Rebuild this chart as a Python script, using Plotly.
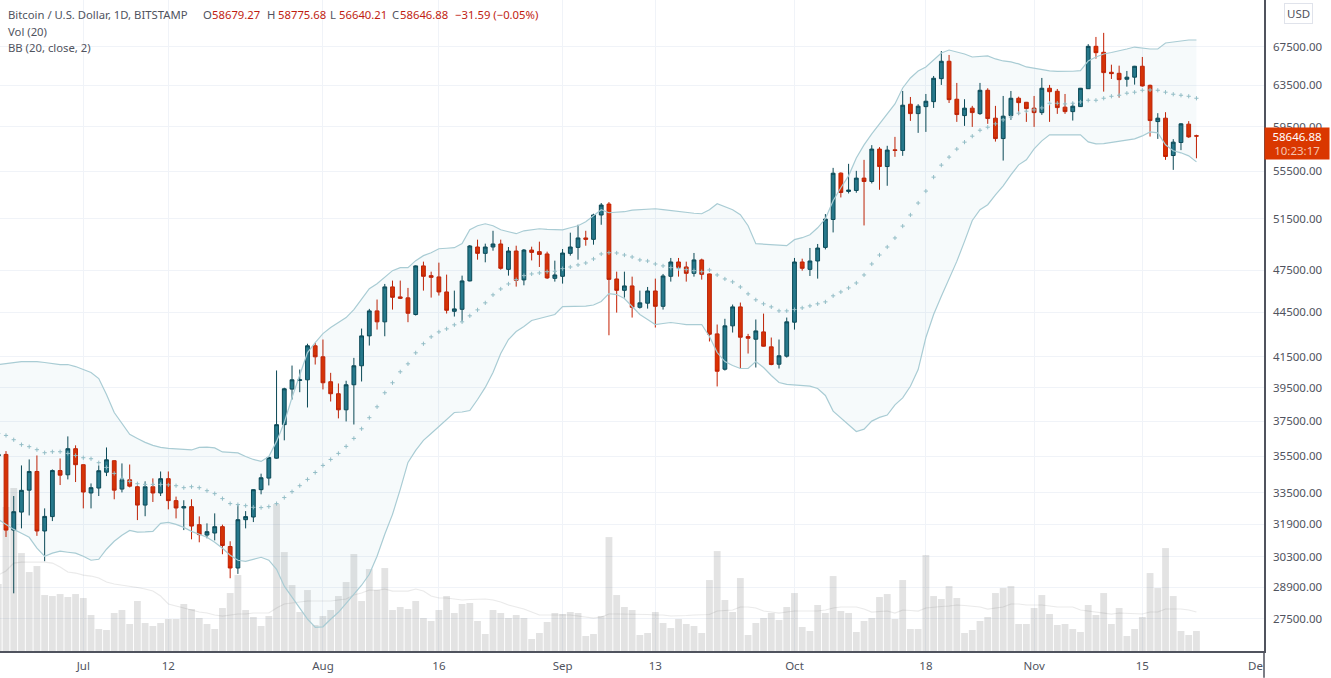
import math
import pandas as pd
import plotly.graph_objects as go

dates = pd.date_range("2021-06-20", periods=156, freq="D")

opens = [
    35500,
    35590, 31605, 32510, 33650, 34650, 31560, 32280, 34700, 34470, 35910,
    35020, 33500, 33760, 34610, 35240, 33705, 34200, 33830, 32870, 33830,
    33500, 34260, 33100, 32720, 32790, 31875, 31360, 31460, 31775, 30800,
    29780, 32125, 32260, 33675, 34290, 35380, 37290, 39430, 39970, 40010,
    42205, 41480, 39890, 39145, 38170, 39700, 40900, 42865, 44580, 43820,
    46290, 45570, 45500, 44325, 47840, 47115, 47020, 45925, 44550, 44690,
    46725, 49280, 48790, 49280, 49515, 47580, 48970, 46800, 49045, 48920,
    48745, 46915, 47065, 48790, 49250, 49985, 49875, 51820, 52715, 46870,
    46040, 46360, 44830, 45120, 45995, 44900, 47065, 48135, 47760, 47285,
    48290, 47240, 43000, 40680, 43545, 44860, 42820, 42640, 43135, 42135,
    41000, 41520, 43795, 48135, 47580, 48210, 49250, 51455, 55335, 53770,
    53850, 54905, 54615, 57465, 55910, 57400, 57340, 61655, 60755, 61425,
    61905, 64180, 65955, 62140, 60565, 61275, 60755, 63020, 60320, 58420,
    60565, 62235, 61845, 61275, 60850, 63220, 62920, 61370, 60945, 61425,
    63175, 67520, 66890, 64825, 64720, 64120, 64330, 65440, 63510, 60000,
    60320, 56885, 58060, 59755, 58679.27,
]
closes = [
    35590,
    31605, 32530, 33640, 34650, 31560, 32290, 34700, 34450, 35910, 35020,
    33550, 33780, 34690, 35290, 33650, 34200, 33860, 32870, 33830, 33500,
    34260, 33100, 32720, 32790, 31805, 31380, 31525, 31775, 30850, 29780,
    32125, 32280, 33675, 34310, 35420, 37290, 39450, 40010, 40010, 42205,
    41480, 39825, 39145, 38170, 39700, 40900, 42865, 44580, 43820, 46290,
    45540, 45470, 44415, 47840, 47065, 46990, 45925, 44620, 44720, 46725,
    49360, 48790, 49280, 49515, 47660, 48970, 46770, 49045, 48865, 48710,
    46945, 47165, 48815, 49280, 49985, 49875, 51820, 52635, 46840, 46040,
    46360, 44830, 45145, 45995, 44900, 47090, 48135, 47730, 47285, 48290,
    47210, 42975, 40550, 43545, 44860, 42775, 42705, 43200, 42175, 40980,
    41545, 43820, 48135, 47660, 48210, 49200, 51490, 55330, 53685, 53885,
    54905, 54615, 57465, 55910, 57375, 57340, 61560, 60755, 61465, 61945,
    64220, 65955, 62100, 60665, 61275, 60850, 63020, 60285, 58420, 60510,
    62235, 61810, 61235, 60850, 63220, 62880, 61330, 60945, 61465, 63220,
    67520, 66850, 64790, 64690, 64080, 64330, 65440, 63450, 60095, 60320,
    56800, 58095, 59785, 58575, 58646.88,
]
highs = [
    35900,
    35775, 33340, 34980, 35310, 35530, 32700, 34760, 35365, 36610, 36100,
    35030, 34005, 34980, 35980, 35255, 35090, 35030, 33900, 34115, 34275,
    34650, 34650, 33310, 33120, 33170, 32290, 31940, 32445, 31875, 31055,
    32860, 32560, 33690, 34530, 35460, 40600, 39515, 40915, 40660, 42340,
    42400, 42620, 40450, 39780, 39950, 41410, 43360, 44720, 45380, 46505,
    46750, 46750, 46215, 47880, 48160, 47410, 48085, 47190, 46020, 47115,
    49435, 49850, 49540, 50550, 49850, 49280, 49380, 49125, 49305, 49695,
    48920, 48235, 49125, 50400, 51030, 50550, 51920, 52800, 52880, 47410,
    47410, 47040, 46020, 46285, 46895, 47240, 48440, 48440, 48160, 48820,
    48385, 47265, 43635, 44030, 45025, 45165, 43000, 43980, 44390, 42755,
    42620, 44115, 48440, 48385, 49205, 49515, 51895, 55795, 55400, 56150,
    55535, 56500, 57820, 57640, 57760, 58575, 62950, 62360, 61655, 62655,
    64450, 67025, 66610, 63750, 62140, 61495, 63750, 63220, 61495, 62460,
    62950, 62390, 61875, 62460, 64250, 63550, 63150, 62655, 61810, 63250,
    67750, 68520, 68960, 65600, 65500, 64960, 65480, 66400, 63580, 60795,
    60890, 58365, 59850, 60040, 58775.68,
]
lows = [
    35300,
    31265, 28620, 31690, 32340, 31320, 30100, 32055, 33920, 34220, 34080,
    32700, 32700, 33340, 34400, 33170, 33530, 33795, 32105, 32300, 33030,
    33340, 32650, 32190, 31605, 31150, 31005, 31200, 31100, 30430, 29305,
    29505, 31690, 32005, 33430, 33900, 35350, 36385, 38790, 39240, 38310,
    40980, 39410, 38670, 37660, 37480, 37300, 39905, 42220, 43290, 42840,
    44670, 45415, 43795, 44255, 46020, 45520, 45665, 44395, 44185, 43860,
    46695, 48310, 48110, 48995, 47560, 47115, 46310, 46405, 48255, 47760,
    46870, 46675, 46530, 48615, 48310, 49380, 49460, 51030, 42905, 44460,
    45520, 44115, 44740, 44740, 43430, 44670, 46675, 47040, 46675, 47040,
    46820, 42490, 39595, 40595, 43090, 40725, 41695, 40790, 42155, 40935,
    40725, 41430, 43290, 47485, 47090, 46895, 49095, 50420, 53265, 53600,
    53660, 50975, 54450, 53910, 54250, 56770, 56860, 60065, 58945, 59035,
    61300, 63550, 61775, 59970, 59595, 59500, 60635, 59785, 58145, 56440,
    60160, 60635, 59970, 59500, 60635, 59970, 60730, 60730, 60095, 61395,
    63150, 66225, 62885, 64150, 62300, 63380, 63580, 63380, 58605, 58390,
    56500, 55620, 57370, 58485, 56640.21,
]

# hundreds of BTC
volumes = [
    67,
    144, 163, 98, 79, 85, 56, 55, 57, 54, 57,
    53, 36, 22, 21, 38, 41, 27, 50, 28, 25,
    28, 32, 32, 47, 42, 33, 27, 22, 43, 58,
    76, 41, 34, 25, 35, 147, 99, 66, 39, 61,
    26, 35, 41, 55, 69, 97, 50, 82, 61, 83,
    41, 44, 42, 50, 33, 30, 41, 55, 38, 47,
    48, 30, 17, 41, 38, 33, 36, 33, 12, 18,
    29, 38, 37, 39, 38, 15, 17, 35, 114, 56,
    44, 41, 16, 18, 39, 28, 23, 32, 27, 25,
    18, 71, 100, 51, 39, 73, 16, 28, 33, 38,
    31, 44, 58, 24, 20, 46, 38, 75, 40, 38,
    19, 30, 33, 54, 57, 32, 71, 22, 22, 96,
    55, 52, 65, 53, 18, 21, 30, 34, 58, 63,
    65, 27, 27, 43, 56, 37, 26, 27, 22, 19,
    46, 36, 58, 27, 43, 15, 22, 34, 78, 63,
    103, 55, 20, 16, 20,
]
vol_ma = [
    76,
    80, 88, 89, 89, 89, 89, 88, 84, 79, 78,
    76, 75, 73, 69, 67, 66, 65, 63.5, 62, 60,
    55, 47, 45, 43, 41, 39, 38, 36, 35, 36,
    37, 37, 38, 38, 38, 43, 47, 48, 49, 50,
    50, 50, 50, 51, 52, 56, 58, 61, 61, 62,
    60, 60, 60, 62, 60, 55, 53, 53, 52, 51,
    51.5, 52, 52, 51, 49, 46, 44, 42, 39, 36,
    36, 36, 36, 36, 35, 34, 33, 34, 37, 37,
    37, 37, 37, 36.5, 36, 36, 35, 35, 35.5, 36,
    36, 36.5, 40, 40.5, 41, 44, 44, 43, 40, 39,
    38, 39, 40, 40, 40, 40, 41, 43, 44, 44,
    44, 42, 39, 39.5, 40, 38, 41, 40.5, 40, 43,
    44, 44.5, 45, 46, 45.5, 45, 44, 42, 43, 44,
    47, 47, 46, 46, 46, 45, 44, 44, 44, 41,
    40, 39, 38, 37, 38, 37.5, 37, 37, 39, 39,
    42, 42, 42, 41, 39,
]

bb_upper = [
    40980,
    41045, 41110, 41170, 41170, 41170, 41110, 41045, 40980, 40980, 40850,
    40660, 40470, 40090, 39100, 38010, 37365, 36725, 36495, 36270, 36100,
    35985, 35930, 35900, 35870, 35840, 35985, 36000, 35955, 35730, 35700,
    35675, 35475, 35310, 35200, 35475, 36325, 37420, 38915, 40345, 41760,
    42420, 43020, 43425, 43770, 44115, 44670, 45380, 46160, 46525, 47040,
    47485, 47710, 47710, 48235, 48615, 48840, 49145, 49185, 49225, 49540,
    50630, 50950, 51110, 50950, 50630, 50475, 50320, 50550, 50630, 50710,
    50670, 50630, 50630, 50790, 50950, 51270, 51755, 52250, 52000, 52045,
    52085, 52210, 52250, 52290, 52330, 52250, 52170, 52085, 52000, 51960,
    51920, 52250, 52740, 52495, 52250, 51840, 50950, 49540, 49500, 49460,
    49420, 49380, 49850, 50005, 50240, 50790, 51510, 52990, 54080, 55100,
    56675, 57850, 58850, 59785, 60820, 61685, 63250, 64250, 64960, 65370,
    66090, 66815, 67130, 66920, 66715, 66400, 66450, 66505, 66195, 65985,
    65885, 65680, 65370, 65215, 65060, 64960, 64910, 64910, 64930, 64990,
    65985, 66400, 66715, 66870, 67025, 67235, 67445, 67340, 67235, 67235,
    67870, 67980, 68085, 68190, 68190,
]
bb_lower = [
    32140,
    31890, 31640, 31445, 31250, 30720, 30335, 30480, 30575, 30525, 30480,
    30335, 30145, 30190, 30670, 31055, 31345, 31590, 31505, 31515, 31540,
    31940, 31990, 31890, 31740, 31540, 31395, 31250, 31005, 30720, 30380,
    30145, 30095, 30190, 30285, 30145, 29720, 28940, 28440, 27955, 27480,
    27135, 27155, 27480, 27780, 28175, 28575, 28985, 29490, 30335, 31395,
    32395, 33690, 35145, 35815, 36385, 36780, 37185, 37600, 38010, 38040,
    38130, 38790, 39535, 40470, 41695, 42620, 43155, 43495, 43910, 44050,
    44190, 44325, 44885, 44885, 44885, 44920, 44990, 45240, 45805, 45735,
    45450, 44885, 44325, 43980, 43635, 43705, 43775, 43705, 43635, 43635,
    43635, 42820, 41760, 41170, 40915, 40725, 40725, 41170, 40790, 40280,
    39840, 39720, 39675, 39655, 39610, 39470, 39040, 38090, 37700, 37305,
    36895, 37030, 37500, 37720, 37855, 38470, 38895, 39610, 40660, 42755,
    44325, 45615, 46870, 48180, 49715, 51375, 52250, 52660, 53490, 54250,
    55185, 56060, 56500, 57490, 58210, 58760, 58760, 58760, 58760, 58760,
    58120, 57940, 57965, 58075, 58210, 58300, 58390, 58665, 59035, 58945,
    57850, 57310, 57130, 56860, 56325,
]
bb_basis = [
    36780,
    36665, 36420, 36140, 36025, 35855, 35685, 35740, 35740, 35645, 35530,
    35405, 35350, 35130, 34870, 34545, 34275, 34115, 33990, 33955, 33955,
    33955, 33930, 33885, 33780, 33830, 33780, 33620, 33465, 33205, 32945,
    32895, 32840, 32755, 32740, 32790, 32945, 33260, 33570, 33885, 34220,
    34595, 34980, 35310, 35645, 36040, 36495, 37050, 37700, 38350, 39205,
    39825, 40515, 41025, 41740, 42340, 42800, 43135, 43340, 43615, 43820,
    44235, 44650, 45145, 45715, 46140, 46505, 46820, 47115, 47240, 47315,
    47410, 47435, 47635, 47760, 47915, 48060, 48365, 48745, 48840, 48820,
    48665, 48515, 48290, 48210, 47985, 47840, 47710, 47635, 47560, 47485,
    47410, 47535, 47165, 46870, 46655, 46285, 45785, 45360, 45075, 44860,
    44580, 44580, 44670, 44790, 44930, 45075, 45215, 45645, 45925, 46215,
    46575, 47165, 47985, 48665, 49280, 49985, 50925, 51820, 52800, 53800,
    54990, 56035, 56745, 57465, 58095, 58640, 59190, 59470, 59785, 60160,
    60420, 60790, 60985, 61110, 61300, 61750, 61750, 61685, 61750, 61875,
    62040, 62040, 62235, 62430, 62530, 62730, 62830, 63020, 63050, 63020,
    62830, 62630, 62530, 62430, 62235,
]

price_ticks = [72500, 67500, 63500, 59500, 55500, 51500, 47500, 44500, 41500,
               39500, 37500, 35500, 33500, 31900, 30300, 28900, 27500]
date_ticks = ["2021-07-01", "2021-07-12", "2021-08-01", "2021-08-16", "2021-09-01",
              "2021-09-13", "2021-10-01", "2021-10-18", "2021-11-01", "2021-11-15"]
date_labels = ["Jul", "12", "Aug", "16", "Sep", "13", "Oct", "18", "Nov", "15"]

FONT = "Noto Sans"
GREY = "#50535e"
RED = "#bf1d12"
W, H = 1331, 678
PLOT_W, PLOT_H = 1264, 651.3

fig = go.Figure()

fig.add_trace(go.Bar(x=dates, y=volumes, yaxis="y", marker=dict(color="rgba(90,90,90,0.17)", line_width=0)))
fig.add_trace(go.Scatter(x=dates, y=vol_ma, yaxis="y", mode="lines",
                         line=dict(color="rgba(90,90,90,0.13)", width=1.2)))

fig.add_trace(go.Scatter(x=dates, y=bb_upper, yaxis="y2", mode="lines",
                         line=dict(color="#a9ccd4", width=1.2)))
fig.add_trace(go.Scatter(x=dates, y=bb_lower, yaxis="y2", mode="lines", fill="tonexty",
                         fillcolor="rgba(38,140,160,0.045)",
                         line=dict(color="#a9ccd4", width=1.2)))
fig.add_trace(go.Scatter(x=dates, y=bb_basis, yaxis="y2", mode="markers",
                         marker=dict(symbol="cross-thin", size=3, line=dict(color="#93bdc6", width=1))))

fig.add_trace(go.Candlestick(x=dates, open=opens, high=highs, low=lows, close=closes, yaxis="y2",
                             increasing=dict(line=dict(color="#0a4754", width=1), fillcolor="#26788a"),
                             decreasing=dict(line=dict(color="#c41f00", width=1), fillcolor="#dd3000")))

# header text, each piece placed separately
header = [
    [("Bitcoin / U.S. Dollar, 1D, BITSTAMP", GREY, 7), ("O", GREY, 202), ("58679.27", RED, 211),
     ("H", GREY, 266), ("58775.68", RED, 277), ("L", GREY, 329), ("56640.21", RED, 337.5),
     ("C", GREY, 391), ("58646.88", RED, 399), ("\u221231.59 (\u22120.05%)", RED, 454)],
    [("Vol (20)", GREY, 7)],
    [("BB (20, close, 2)", GREY, 7)],
]
annotations = []
for row, pieces in enumerate(header):
    for text, color, px in pieces:
        annotations.append(dict(text=text, xref="paper", yref="paper", x=px / PLOT_W,
                                y=1 - (15 + row * 16.5) / PLOT_H, xanchor="left", yanchor="middle",
                                showarrow=False, borderpad=0, font=dict(family=FONT, size=11.3, color=color)))

annotations.append(dict(text="USD", xref="paper", yref="paper", x=1298 / PLOT_W, y=1 - 14 / PLOT_H,
                        xanchor="center", yanchor="middle", showarrow=False, bgcolor="white",
                        bordercolor="#e0e3eb", borderwidth=1, borderpad=2,
                        font=dict(family=FONT, size=11.5, color=GREY)))
annotations.append(dict(text="58646.88<br><span style='color:#f5c4b0'>10:23:17</span>", xref="paper", yref="paper",
                        x=1, y=1 - 143.5 / PLOT_H, xanchor="left", yanchor="middle", showarrow=False,
                        width=64, height=31, align="center", bgcolor="#da3700", borderpad=0,
                        font=dict(family=FONT, size=11.5, color="white")))
annotations.append(dict(text="De", xref="paper", yref="paper", x=1, y=1 - 666 / PLOT_H,
                        xanchor="right", yanchor="middle", showarrow=False, borderpad=0,
                        font=dict(family=FONT, size=11.5, color=GREY)))

fig.update_layout(
    width=W, height=H,
    margin=dict(l=0, r=W - PLOT_W, t=0, b=H - PLOT_H),
    paper_bgcolor="white", plot_bgcolor="white",
    showlegend=False, bargap=0.12,
    font=dict(family=FONT, size=11.5, color=GREY),
    annotations=annotations,
    xaxis=dict(type="date", range=["2021-06-20 05:22", "2021-11-30 17:46"],
               tickvals=date_ticks, ticktext=date_labels, rangeslider=dict(visible=False),
               showgrid=True, gridcolor="#f0f3f8", gridwidth=1, zeroline=False,
               showline=True, linecolor=GREY, linewidth=1.5,
               ticks="outside", ticklen=3, tickcolor="rgba(0,0,0,0)"),
    yaxis=dict(range=[0, PLOT_H], visible=False),
    yaxis2=dict(type="log", overlaying="y", side="right", anchor="x",
                range=[math.log10(26143), math.log10(72610)],
                tickvals=price_ticks, tickformat=".2f",
                showgrid=True, gridcolor="#f0f3f8", gridwidth=1, zeroline=False,
                showline=True, linecolor=GREY, linewidth=1.5,
                ticks="outside", ticklen=5, tickcolor="rgba(0,0,0,0)"),
    shapes=[dict(type="line", xref="paper", yref="paper", x0=1, x1=1, y0=-(H - PLOT_H) / PLOT_H, y1=0,
                 line=dict(color=GREY, width=1.5))],
)

fig.write_html("out.html", config={"displayModeBar": False}, post_script="document.body.style.margin='0';")
